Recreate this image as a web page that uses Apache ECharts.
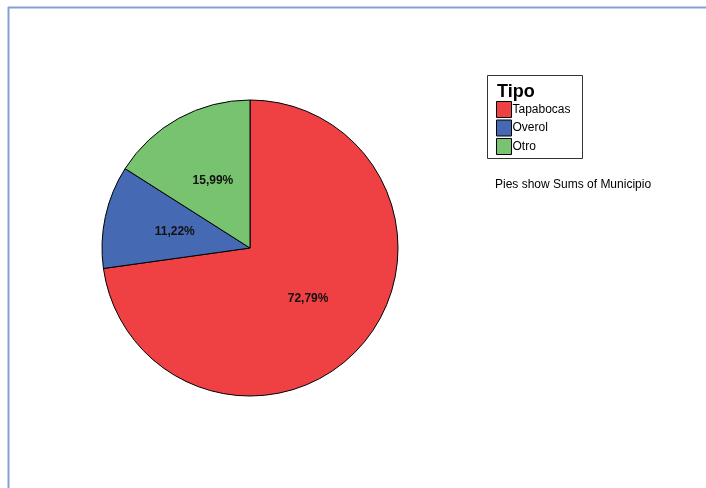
<!DOCTYPE html>
<html>
<head>
<meta charset="utf-8">
<script src="https://cdn.jsdelivr.net/npm/echarts@6/dist/echarts.min.js"></script>
<style>
html,body{margin:0;padding:0;background:#fff;}
#c{width:706px;height:488px;}
</style>
</head>
<body>
<div id="c"></div>
<script>
var categories = ["Tapabocas", "Overol", "Otro"];
var values = [72.79, 11.22, 15.99];
var labels = ["72,79%", "11,22%", "15,99%"];
var colors = ["#ef4044", "#4569b3", "#77c36f"];
var legendTitle = "Tipo";
var footnote = "Pies show Sums of Municipio";

var chart = echarts.init(document.getElementById('c'), null, {renderer: 'canvas'});
var font = "'Liberation Sans', Arial, sans-serif";
chart.setOption({
  animation: false,
  backgroundColor: '#ffffff',
  legend: {
    orient: 'vertical',
    left: 496,
    top: 101,
    padding: 0,
    itemWidth: 15,
    itemHeight: 16,
    itemGap: 1.5,
    icon: 'rect',
    selectedMode: false,
    data: categories,
    itemStyle: {borderColor: '#000', borderWidth: 1},
    textStyle: {fontFamily: font, fontSize: 12, color: '#000', padding: [0, 0, 0, -4]}
  },
  graphic: [
    {type: 'line', shape: {x1: 8, y1: 7.5, x2: 706, y2: 7.5}, style: {stroke: '#7ea1d6', lineWidth: 2}, silent: true},
    {type: 'line', shape: {x1: 8.5, y1: 7, x2: 8.5, y2: 488}, style: {stroke: '#7ea1d6', lineWidth: 2}, silent: true},
    {type: 'rect', shape: {x: 487.5, y: 75.5, width: 95, height: 83}, style: {fill: 'none', stroke: '#333', lineWidth: 1}, silent: true, z: -1},
    {type: 'text', left: 497, top: 83, style: {text: legendTitle, font: "bold 18px " + font, fill: '#000'}, silent: true},
    {type: 'text', left: 495, top: 179, style: {text: footnote, font: "12px " + font, fill: '#000'}, silent: true}
  ],
  series: [{
    type: 'pie',
    center: [250, 248],
    radius: [0, 148],
    startAngle: 90,
    clockwise: true,
    silent: true,
    label: {
      show: true,
      position: 'inside',
      fontFamily: font,
      fontSize: 12,
      fontWeight: 'bold',
      color: '#111',
      formatter: function (p) { return labels[p.dataIndex]; }
    },
    labelLine: {show: false},
    itemStyle: {borderColor: '#000', borderWidth: 1},
    data: categories.map(function (c, i) {
      return {name: c, value: values[i], itemStyle: {color: colors[i]}};
    })
  }]
});
</script>
</body>
</html>
